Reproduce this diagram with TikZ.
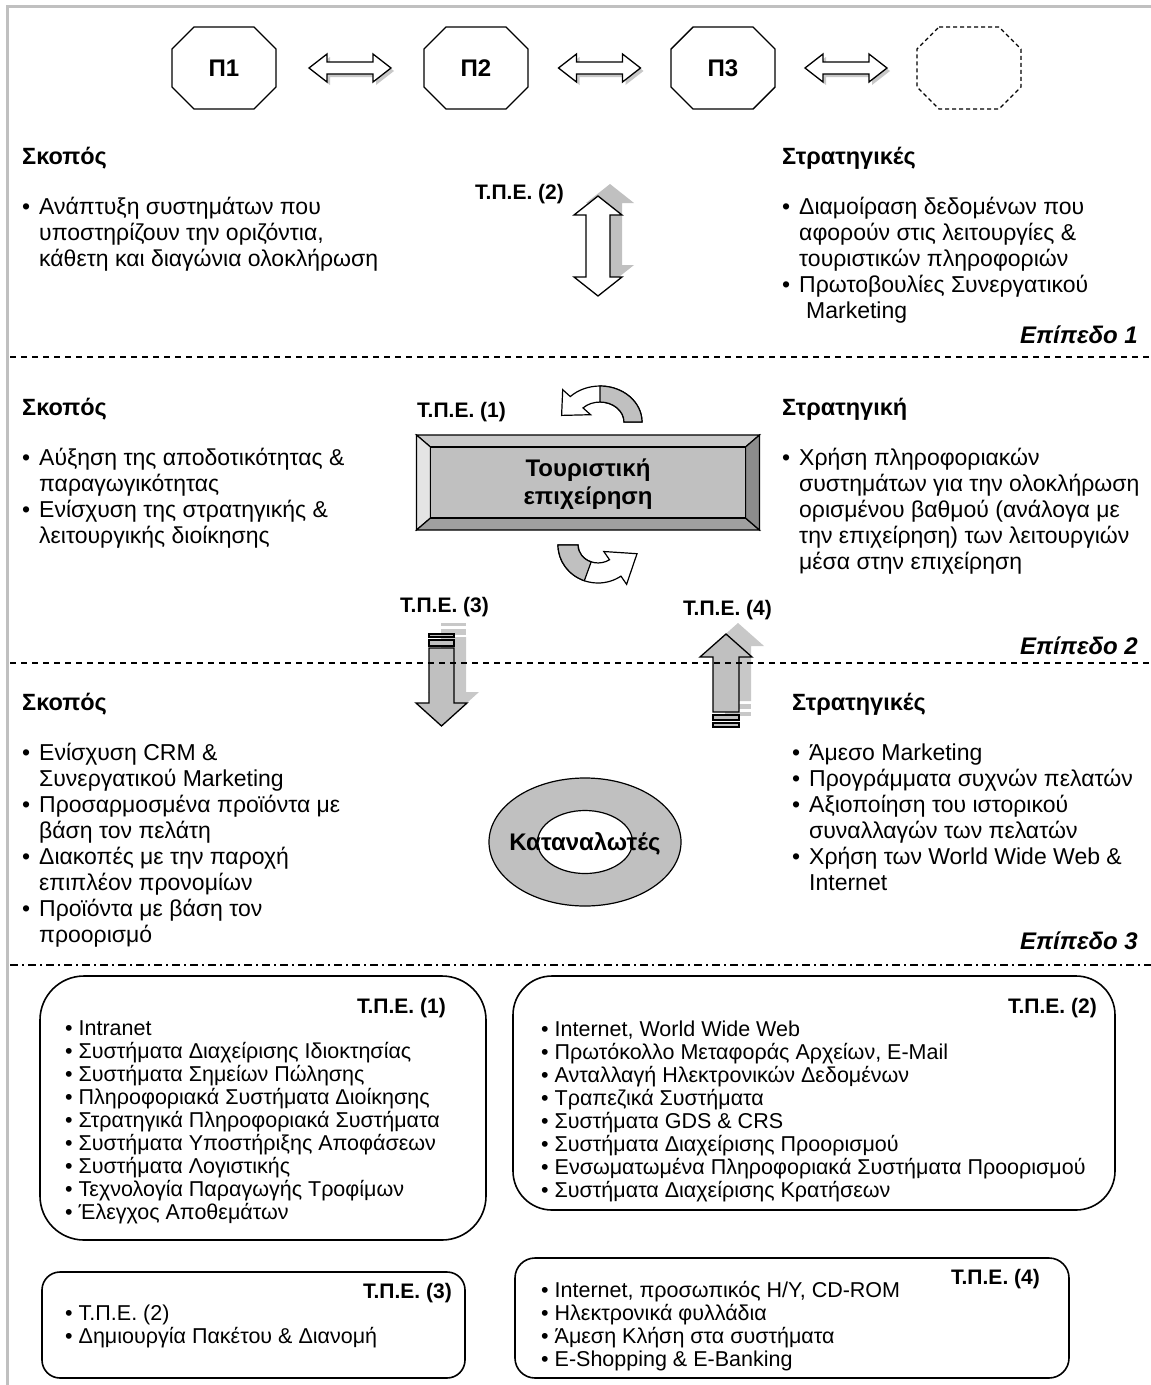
\documentclass[tikz,border=0pt]{standalone}
\usepackage{fontspec}
\setmainfont{Liberation Sans}
\usetikzlibrary{calc}
\definecolor{framegray}{HTML}{C0C0C0}
\definecolor{facegray}{HTML}{C0C0C0}
\definecolor{shadegray}{HTML}{C8C8C8}
\definecolor{bevtop}{HTML}{CACACA}
\definecolor{bevleft}{HTML}{E4E4E4}
\definecolor{bevbottom}{HTML}{A0A0A0}
\definecolor{bevright}{HTML}{8C8C8C}
% bullet with fixed indent, and matching indent for continuation lines
\newcommand{\bl}{\makebox[17pt][l]{\textbullet}}
\newcommand{\ct}{\hspace*{17pt}}
\newcommand{\tstrut}{\rule{0pt}{18pt}}
\newcommand{\bstrut}{\rule{0pt}{16pt}}
\begin{document}
\begin{tikzpicture}[x=1pt,y=-1pt,
  every node/.style={inner sep=0pt},
  txt/.style={anchor=north west, align=left, font=\fontsize{23}{26}\selectfont},
  head/.style={anchor=base west, font=\bfseries\fontsize{23.5}{26}\selectfont},
  tpe/.style={anchor=base west, font=\bfseries\fontsize{21}{24}\selectfont},
  tper/.style={anchor=base east, font=\bfseries\fontsize{21}{24}\selectfont},
  level/.style={anchor=base east, font=\bfseries\itshape\fontsize{24}{26}\selectfont},
  boxtxt/.style={anchor=north west, align=left, font=\fontsize{21.5}{23}\selectfont},
  octline/.style={draw=black, line width=1.4pt, fill=white},
  sep/.style={line width=1.2pt, dash pattern=on 6pt off 5pt},
  sepdot/.style={line width=1.2pt, dash pattern=on 8pt off 4pt on 2pt off 4pt},
  ictbox/.style={draw=black, line width=1.6pt, rounded corners=#1},
  hollow/.style={draw=black, line width=1.3pt, fill=white},
  solidarrow/.style={draw=black, line width=1.3pt, fill=facegray},
  pfont/.style={font=\bfseries\fontsize{24}{28}\selectfont},
]
\useasboundingbox (0,0) rectangle (1151,1385);
\fill[white] (0,0) rectangle (1151,1385);

% outer frame (top and left edges)
\draw[framegray, line width=3pt] (7.5,1385) -- (7.5,6.5) -- (1151,6.5);

% ---------------- Level 1: partner octagons ----------------
\coordinate (p1) at (224,68);
\coordinate (p2) at (476,68);
\coordinate (p3) at (723,68);
\coordinate (p4) at (969,68);
\foreach \n in {p1,p2,p3}{
  \draw[octline] ($(\n)+(-30,-41)$) -- ($(\n)+(30,-41)$) -- ($(\n)+(52,-19)$) -- ($(\n)+(52,19)$)
    -- ($(\n)+(30,41)$) -- ($(\n)+(-30,41)$) -- ($(\n)+(-52,19)$) -- ($(\n)+(-52,-19)$) -- cycle;
}
\draw[line width=1.2pt, dash pattern=on 4pt off 3pt] ($(p4)+(-30,-41)$) -- ($(p4)+(30,-41)$) -- ($(p4)+(52,-19)$) -- ($(p4)+(52,19)$)
    -- ($(p4)+(30,41)$) -- ($(p4)+(-30,41)$) -- ($(p4)+(-52,19)$) -- ($(p4)+(-52,-19)$) -- cycle;
\node[pfont] (p1t) at (p1) {Π1};
\node[pfont] (p2t) at (p2) {Π2};
\node[pfont] (p3t) at (p3) {Π3};

% horizontal two-way arrows between the octagons
\coordinate (h1) at ($(p1)!0.5!(p2)$);
\coordinate (h2) at ($(p2)!0.5!(p3)$);
\coordinate (h3) at ($(p3)!0.5!(p4)$);
\foreach \n in {h1,h2,h3}{
  \begin{scope}[shift={($(\n)+(3,3)$)}]
    \fill[shadegray] (-41,0) -- (-23,-14) -- (-23,-6) -- (23,-6) -- (23,-14) -- (41,0)
      -- (23,14) -- (23,6) -- (-23,6) -- (-23,14) -- cycle;
  \end{scope}
  \begin{scope}[shift={(\n)}]
    \draw[hollow] (-41,0) -- (-23,-14) -- (-23,-6) -- (23,-6) -- (23,-14) -- (41,0)
      -- (23,14) -- (23,6) -- (-23,6) -- (-23,14) -- cycle;
  \end{scope}
}

% level 1 texts
\node[head] (aim1) at (22,164) {Σκοπός};
\node[txt] (aim1txt) at (22,196) {\tstrut\bl Ανάπτυξη συστημάτων που\\
  \ct υποστηρίζουν την οριζόντια,\\
  \ct κάθετη και διαγώνια ολοκλήρωση};
\node[head] (str1) at (782,164) {Στρατηγικές};
\node[txt] (str1txt) at (782,196) {\tstrut\bl Διαμοίραση δεδομένων που\\
  \ct αφορούν στις λειτουργίες \&\\
  \ct τουριστικών πληροφοριών\\
  \bl Πρωτοβουλίες Συνεργατικού\\
  \ct\hspace*{7pt}Marketing};
\node[tpe] (tpe2) at (475,199) {Τ.Π.Ε. (2)};

% vertical two-way arrow with shadow
\coordinate (v1) at (598,246);
\begin{scope}[shift={($(v1)+(12,-12)$)}]
  \fill[facegray] (0,-50) -- (24,-31) -- (12,-31) -- (12,31) -- (24,31) -- (0,50)
    -- (-24,31) -- (-12,31) -- (-12,-31) -- (-24,-31) -- cycle;
\end{scope}
\begin{scope}[shift={(v1)}]
  \draw[hollow] (0,-50) -- (24,-31) -- (12,-31) -- (12,31) -- (24,31) -- (0,50)
    -- (-24,31) -- (-12,31) -- (-12,-31) -- (-24,-31) -- cycle;
\end{scope}

\node[level] (lev1) at (1138,343) {Επίπεδο 1};
\draw[sep] (10,357) -- (1151,357);

% ---------------- Level 2: the tourism firm ----------------
\node[head] (aim2) at (22,415) {Σκοπός};
\node[txt] (aim2txt) at (22,447) {\tstrut\bl Αύξηση της αποδοτικότητας \&\\
  \ct παραγωγικότητας\\
  \bl Ενίσχυση της στρατηγικής \&\\
  \ct λειτουργικής διοίκησης};
\node[head] (str2) at (782,415) {Στρατηγική};
\node[txt] (str2txt) at (782,447) {\tstrut\bl Χρήση πληροφοριακών\\
  \ct συστημάτων για την ολοκλήρωση\\
  \ct ορισμένου βαθμού (ανάλογα με\\
  \ct την επιχείρηση) των λειτουργιών\\
  \ct μέσα στην επιχείρηση};
\node[tpe] (tpe1) at (417,417) {Τ.Π.Ε. (1)};

% bevelled box
\coordinate (firmc) at (588,482.5);
\begin{scope}[shift={(firmc)}, line width=1.2pt]
  \filldraw[fill=bevtop] (-171.5,-47.5) -- (171.5,-47.5) -- (157.5,-35.5) -- (-157.5,-35.5) -- cycle;
  \filldraw[fill=bevleft] (-171.5,-47.5) -- (-157.5,-35.5) -- (-157.5,35.5) -- (-171.5,47.5) -- cycle;
  \filldraw[fill=bevbottom] (-171.5,47.5) -- (-157.5,35.5) -- (157.5,35.5) -- (171.5,47.5) -- cycle;
  \filldraw[fill=bevright] (171.5,-47.5) -- (157.5,-35.5) -- (157.5,35.5) -- (171.5,47.5) -- cycle;
  \filldraw[fill=facegray] (-157.5,-35.5) rectangle (157.5,35.5);
\end{scope}
\node[align=center, font=\bfseries\fontsize{24}{28}\selectfont] (firm) at (588,484) {Τουριστική\\επιχείρηση};

% curved arrow above the box
\begin{scope}[shift={(600,422)}, line width=1.2pt]
  \filldraw[fill=white] (42,0) arc[start angle=0, end angle=-135, x radius=42, y radius=36]
    -- (-37.3,-32.3) -- (-38.4,-6.6) -- (-9.4,-7.3) -- (-17,-14.1)
    arc[start angle=-135, end angle=0, x radius=24, y radius=20] -- cycle;
  \filldraw[fill=facegray] (42,0) arc[start angle=0, end angle=-90, x radius=42, y radius=36]
    -- (0,-20) arc[start angle=-90, end angle=0, x radius=24, y radius=20] -- cycle;
\end{scope}

% curved arrow below the box
\begin{scope}[shift={(598,545)}, line width=1.2pt]
  \filldraw[fill=white] (-40,0) arc[start angle=180, end angle=55, x radius=40, y radius=38]
    -- (28.6,39.3) -- (39,8.7) -- (5.8,6.5) -- (11.5,14.7)
    arc[start angle=55, end angle=180, x radius=20, y radius=18] -- cycle;
  \filldraw[fill=facegray] (-40,0) arc[start angle=180, end angle=110, x radius=40, y radius=38]
    -- (-6.84,16.9) arc[start angle=110, end angle=180, x radius=20, y radius=18] -- cycle;
\end{scope}

\node[tpe] (tpe3) at (400,612) {Τ.Π.Ε. (3)};
\node[tpe] (tpe4) at (683,615) {Τ.Π.Ε. (4)};

% downward arrow (firm to consumers)
\coordinate (dn) at (441.5,680);
\begin{scope}[shift={($(dn)+(12,-11)$)}]
  \fill[shadegray] (-12.5,-32) -- (12.5,-32) -- (12.5,23) -- (25.5,23) -- (0,46) -- (-25.5,23) -- (-12.5,23) -- cycle;
  \fill[shadegray] (-12.5,-40) rectangle (12.5,-34);
  \fill[shadegray] (-12.5,-46) rectangle (12.5,-43);
\end{scope}
\begin{scope}[shift={(dn)}]
  \draw[solidarrow] (-12.5,-32) -- (12.5,-32) -- (12.5,23) -- (25.5,23) -- (0,46) -- (-25.5,23) -- (-12.5,23) -- cycle;
  \draw[solidarrow] (-12.5,-40) rectangle (12.5,-34);
  \draw[solidarrow] (-12.5,-46) rectangle (12.5,-43);
\end{scope}

% upward arrow (consumers to firm)
\coordinate (up) at (726,673);
\begin{scope}[shift={($(up)+(12,-11)$)}]
  \fill[shadegray] (0,-39) -- (26,-16) -- (13,-16) -- (13,39) -- (-13,39) -- (-13,-16) -- (-26,-16) -- cycle;
  \fill[shadegray] (-13,42) rectangle (13,47);
  \fill[shadegray] (-13,50) rectangle (13,54);
\end{scope}
\begin{scope}[shift={(up)}]
  \draw[solidarrow] (0,-39) -- (26,-16) -- (13,-16) -- (13,39) -- (-13,39) -- (-13,-16) -- (-26,-16) -- cycle;
  \draw[solidarrow] (-13,42) rectangle (13,47);
  \draw[solidarrow] (-13,50) rectangle (13,54);
\end{scope}

\node[level] (lev2) at (1138,654) {Επίπεδο 2};
\draw[sep] (10,663) -- (1151,663);

% ---------------- Level 3: consumers ----------------
\node[head] (aim3) at (22,710) {Σκοπός};
\node[txt] (aim3txt) at (22,742) {\tstrut\bl Ενίσχυση CRM \&\\
  \ct Συνεργατικού Marketing\\
  \bl Προσαρμοσμένα προϊόντα με\\
  \ct βάση τον πελάτη\\
  \bl Διακοπές με την παροχή\\
  \ct επιπλέον προνομίων\\
  \bl Προϊόντα με βάση τον\\
  \ct προορισμό};
\node[head] (str3) at (792,710) {Στρατηγικές};
\node[txt] (str3txt) at (792,742) {\tstrut\bl Άμεσο Marketing\\
  \bl Προγράμματα συχνών πελατών\\
  \bl Αξιοποίηση του ιστορικού\\
  \ct συναλλαγών των πελατών\\
  \bl Χρήση των World Wide Web \&\\
  \ct Internet};

% consumer ring
\coordinate (ring) at (585,842);
\filldraw[fill=facegray, line width=1.2pt] (ring) ellipse [x radius=96, y radius=64];
\filldraw[fill=white, line width=1.2pt] (ring) ellipse [x radius=47.5, y radius=31.5];
\node[font=\bfseries\fontsize{24}{28}\selectfont] (cons) at (585,844) {Καταναλωτές};

\node[level] (lev3) at (1138,949) {Επίπεδο 3};
\draw[sepdot] (10,965) -- (1151,965);

% ---------------- technology boxes ----------------
\draw[ictbox=44pt] (40,976) rectangle (486,1240);
\node[tper] (k1) at (446,1013) {Τ.Π.Ε. (1)};
\node[boxtxt] (k1txt) at (65,1019) {\bstrut\textbullet\ Intranet\\
  \textbullet\ Συστήματα Διαχείρισης Ιδιοκτησίας\\
  \textbullet\ Συστήματα Σημείων Πώλησης\\
  \textbullet\ Πληροφοριακά Συστήματα Διοίκησης\\
  \textbullet\ Στρατηγικά Πληροφοριακά Συστήματα\\
  \textbullet\ Συστήματα Υποστήριξης Αποφάσεων\\
  \textbullet\ Συστήματα Λογιστικής\\
  \textbullet\ Τεχνολογία Παραγωγής Τροφίμων\\
  \textbullet\ Έλεγχος Αποθεμάτων};

\draw[ictbox=39pt] (513,976) rectangle (1115,1210);
\node[tper] (k2) at (1097,1013) {Τ.Π.Ε. (2)};
\node[boxtxt] (k2txt) at (541,1020) {\bstrut\textbullet\ Internet, World Wide Web\\
  \textbullet\ Πρωτόκολλο Μεταφοράς Αρχείων, E-Mail\\
  \textbullet\ Ανταλλαγή Ηλεκτρονικών Δεδομένων\\
  \textbullet\ Τραπεζικά Συστήματα\\
  \textbullet\ Συστήματα GDS \& CRS\\
  \textbullet\ Συστήματα Διαχείρισης Προορισμού\\
  \textbullet\ Ενσωματωμένα Πληροφοριακά Συστήματα Προορισμού\\
  \textbullet\ Συστήματα Διαχείρισης Κρατήσεων};

\draw[ictbox=18pt] (42,1272) rectangle (465,1378);
\node[tper] (k3) at (452,1298) {Τ.Π.Ε. (3)};
\node[boxtxt] (k3txt) at (65,1304) {\bstrut\textbullet\ Τ.Π.Ε. (2)\\
  \textbullet\ Δημιουργία Πακέτου \& Διανομή};

\draw[ictbox=20pt] (515,1258) rectangle (1069,1378);
\node[tper] (k4) at (1040,1284) {Τ.Π.Ε. (4)};
\node[boxtxt] (k4txt) at (541,1281) {\bstrut\textbullet\ Internet, προσωπικός Η/Υ, CD-ROM\\
  \textbullet\ Ηλεκτρονικά φυλλάδια\\
  \textbullet\ Άμεση Κλήση στα συστήματα\\
  \textbullet\ E-Shopping \& E-Banking};
\end{tikzpicture}
\end{document}
